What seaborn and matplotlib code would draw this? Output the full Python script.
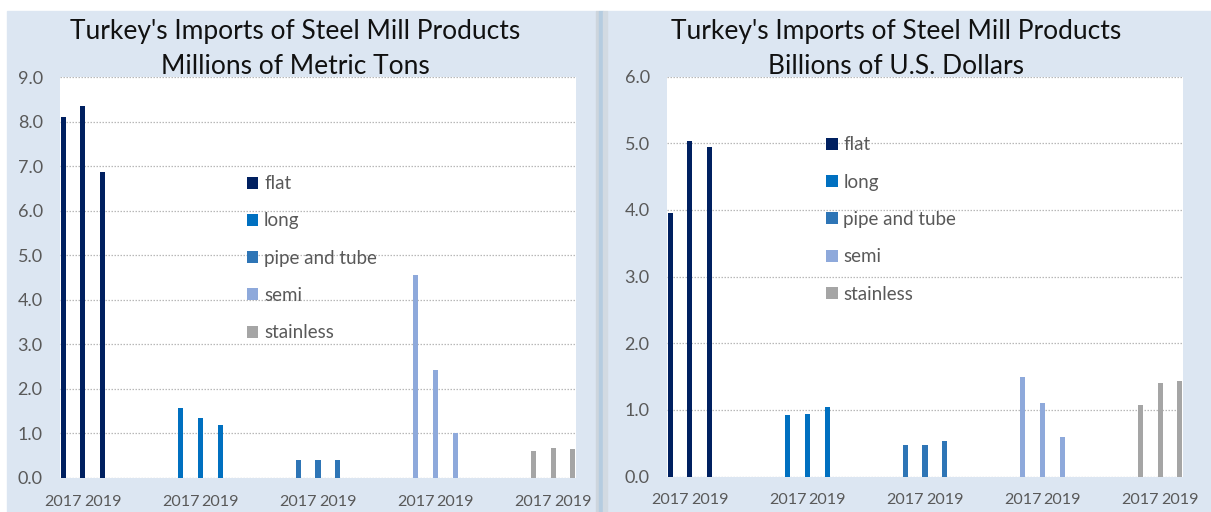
import matplotlib
matplotlib.use("Agg")
import matplotlib.pyplot as plt
from matplotlib.patches import Rectangle, Patch
import numpy as np
import pandas as pd
import seaborn as sns

# --- data -------------------------------------------------------------
products = ["flat", "long", "pipe and tube", "semi", "stainless"]
years = ["2017", "2018", "2019"]

# Millions of metric tons, 2017-2019
tons_flat = [8.10, 8.35, 6.87]
tons_long = [1.58, 1.35, 1.20]
tons_pipe = [0.41, 0.41, 0.41]
tons_semi = [4.55, 2.42, 1.01]
tons_stainless = [0.61, 0.68, 0.64]

# Billions of U.S. dollars, 2017-2019
usd_flat = [3.95, 5.04, 4.94]
usd_long = [0.92, 0.94, 1.04]
usd_pipe = [0.47, 0.47, 0.54]
usd_semi = [1.49, 1.11, 0.60]
usd_stainless = [1.08, 1.41, 1.44]

colors = ["#002060", "#0070C0", "#2E75B6", "#8EA9DB", "#A5A5A5"]
title_main = "Turkey's Imports of Steel Mill Products"
subtitle_tons = "Millions of Metric Tons"
subtitle_usd = "Billions of U.S. Dollars"

SLOTS = 6  # three years plus three empty slots between product groups


def make_frame(series):
    rows = []
    for g, (prod, vals) in enumerate(zip(products, series)):
        for i, (yr, v) in enumerate(zip(years, vals)):
            rows.append({"product": prod, "year": yr, "pos": g * SLOTS + i, "value": v})
    return pd.DataFrame(rows)


df_tons = make_frame([tons_flat, tons_long, tons_pipe, tons_semi, tons_stainless])
df_usd = make_frame([usd_flat, usd_long, usd_pipe, usd_semi, usd_stainless])

# --- style ------------------------------------------------------------
sns.set_style("white")
plt.rcParams["font.family"] = ["Lato", "DejaVu Sans"]

W, H = 1211, 512
fig = plt.figure(figsize=(W / 100, H / 100), dpi=100, facecolor="white")

BG = "#DCE6F2"
# panel backgrounds and divider
fig.patches.append(Rectangle((7 / W, 0), (596 - 7) / W, (H - 11) / H,
                             transform=fig.transFigure, color=BG, zorder=-10))
fig.patches.append(Rectangle((607 / W, 0), (W - 607) / W, (H - 11) / H,
                             transform=fig.transFigure, color=BG, zorder=-10))
for x0, x1, c in [(596, 599, "#CDD5DD"), (599, 603, "#B5CCE0"), (603, 607, "#D2DAE2")]:
    fig.patches.append(Rectangle((x0 / W, 0), (x1 - x0) / W, (H - 11) / H,
                                 transform=fig.transFigure, color=c, zorder=-10))

TICK_C = "#595959"


def draw_panel(df, rect, ymax, subtitle, legend_anchor, title_cx):
    ax = fig.add_axes(rect)
    ax.set_facecolor("white")
    sns.barplot(data=df, x="pos", y="value", hue="product", hue_order=products,
                palette=colors, native_scale=True, width=0.26, dodge=False,
                errorbar=None, saturation=1, linewidth=0, legend=False,
                ax=ax, zorder=3)
    ax.set_ylim(0, ymax)
    ax.set_xlim(-0.17, (len(products) - 1) * SLOTS + 2 + 0.17)
    ax.set_yticks(np.arange(0, ymax + 0.01, 1.0))
    ax.set_yticklabels([f"{v:.1f}" for v in np.arange(0, ymax + 0.01, 1.0)])
    xt, xl = [], []
    for g in range(len(products)):
        xt += [g * SLOTS, g * SLOTS + 2]
        xl += [years[0], years[2]]
    ax.set_xticks(xt)
    ax.set_xticklabels(xl)
    ax.set_xlabel("")
    ax.set_ylabel("")
    for s in ax.spines.values():
        s.set_visible(False)
    ax.tick_params(axis="both", length=0, colors=TICK_C)
    ax.tick_params(axis="y", pad=12.5, labelsize=13)
    ax.tick_params(axis="x", pad=12, labelsize=11.6)
    ax.yaxis.grid(True, color="#B8B8B8", linestyle=(0, (1.2, 1.2)), linewidth=0.9)
    ax.xaxis.grid(False)
    ax.set_axisbelow(True)
    for line in ax.get_ygridlines():
        line.set_zorder(1)

    handles = [Patch(facecolor=c, edgecolor="none", label=p)
               for p, c in zip(products, colors)]
    leg = ax.legend(handles=handles, loc="upper left", bbox_to_anchor=legend_anchor,
                    frameon=False, fontsize=13.5,
                    handlelength=0.62, handleheight=0.62, handletextpad=0.3,
                    labelspacing=1.08, borderpad=0, borderaxespad=0)
    for t in leg.get_texts():
        t.set_color(TICK_C)

    fig.text(title_cx / W, 1 - 32 / H, title_main, ha="center", va="center",
             fontsize=19, color="#111111")
    fig.text(title_cx / W, 1 - 67 / H, subtitle, ha="center", va="center",
             fontsize=19, color="#111111")
    return ax


draw_panel(df_tons, [60 / W, (H - 478) / H, 516 / W, 401 / H], 9.0,
           subtitle_tons, (0.362, 0.755), 295)
draw_panel(df_usd, [667 / W, (H - 476.5) / H, 516 / W, 400 / H], 6.0,
           subtitle_usd, (0.308, 0.85), 896)

fig.savefig("out.png", dpi=100, facecolor="white")
